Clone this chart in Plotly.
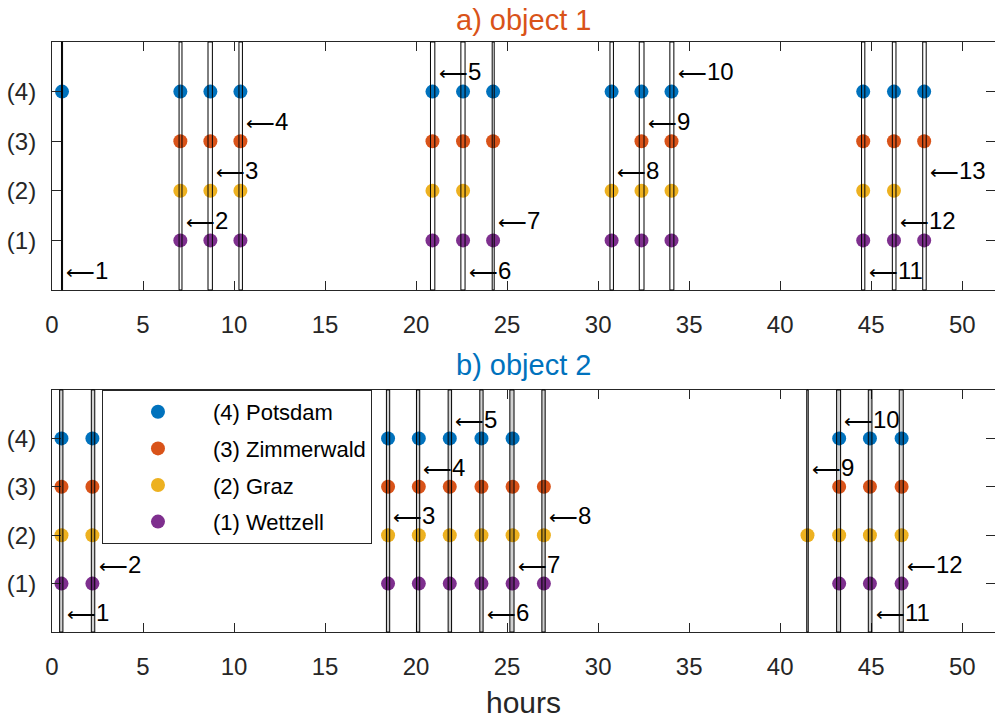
import plotly.graph_objects as go

# ---------------- data ----------------
stations = ["(4) Potsdam", "(3) Zimmerwald", "(2) Graz", "(1) Wettzell"]
station_levels = [4, 3, 2, 1]
station_colors = ["#0072BD", "#D95319", "#EDB120", "#7E2F8E"]
tick_vals = [1, 2, 3, 4]
tick_text = ["(1)", "(2)", "(3)", "(4)"]
x_ticks = [0, 5, 10, 15, 20, 25, 30, 35, 40, 45, 50]

# object 1: observation times (hours) per station
obj1_potsdam = [0.55, 7.05, 8.70, 10.35, 20.90, 22.58, 24.23, 30.74, 32.38, 34.03, 44.56, 46.25, 47.91]
obj1_zimmerwald = [7.05, 8.70, 10.35, 20.90, 22.58, 24.23, 32.38, 34.03, 44.56, 46.25, 47.91]
obj1_graz = [7.05, 8.70, 10.35, 20.90, 22.58, 30.74, 32.38, 34.03, 44.56, 46.25]
obj1_wettzell = [7.05, 8.70, 10.35, 20.90, 22.58, 24.23, 30.74, 32.38, 34.03, 44.56, 46.25, 47.91]
# object 1: pass windows (start, end) in hours
obj1_pass_start = [0.52, 6.98, 8.57, 10.27, 20.79, 22.46, 24.18, 30.65, 32.26, 33.94, 44.47, 46.16, 47.83]
obj1_pass_end = [0.58, 7.14, 8.81, 10.46, 21.03, 22.69, 24.29, 30.84, 32.52, 34.16, 44.65, 46.36, 48.02]

# object 2
obj2_potsdam = [0.52, 2.22, 18.46, 20.15, 21.85, 23.59, 25.30, 43.24, 44.93, 46.67]
obj2_zimmerwald = [0.52, 2.22, 18.46, 20.15, 21.85, 23.59, 25.30, 27.02, 43.24, 44.93, 46.67]
obj2_graz = [0.52, 2.22, 18.46, 20.15, 21.85, 23.59, 25.30, 27.02, 41.50, 43.24, 44.93, 46.67]
obj2_wettzell = [0.52, 2.22, 18.46, 20.15, 21.85, 23.59, 25.30, 27.02, 43.24, 44.93, 46.67]
obj2_pass_start = [0.42, 2.16, 18.37, 20.02, 21.76, 23.50, 25.15, 26.91, 41.46, 43.10, 44.84, 46.54]
obj2_pass_end = [0.60, 2.35, 18.55, 20.20, 21.95, 23.68, 25.38, 27.09, 41.54, 43.32, 45.04, 46.76]

# ---------------- figure ----------------
AX = "#262626"
FONT = "Liberation Sans, Arial, sans-serif"

fig = go.Figure()

panels = [
    ("x", "y", [obj1_potsdam, obj1_zimmerwald, obj1_graz, obj1_wettzell], False),
    ("x2", "y2", [obj2_potsdam, obj2_zimmerwald, obj2_graz, obj2_wettzell], True),
]
for xa, ya, series, show in panels:
    for name, lvl, col, xs in zip(stations, station_levels, station_colors, series):
        fig.add_trace(go.Scatter(
            x=xs, y=[lvl] * len(xs), mode="markers", name=name,
            marker=dict(color=col, size=14, line=dict(width=0)),
            xaxis=xa, yaxis=ya, showlegend=show, legendgroup=name,
            hoverinfo="x+name"))

# invisible traces for right-side tick axes
fig.add_trace(go.Scatter(x=[], y=[], xaxis="x", yaxis="y3", showlegend=False))
fig.add_trace(go.Scatter(x=[], y=[], xaxis="x2", yaxis="y4", showlegend=False))

shapes = []
annotations = []
for xa, ya, starts, ends, fill in [
    ("x", "y", obj1_pass_start, obj1_pass_end, "rgba(0,0,0,0)"),
    ("x2", "y2", obj2_pass_start, obj2_pass_end, "rgba(0,0,0,0.18)"),
]:
    for k, (s, e) in enumerate(zip(starts, ends)):
        shapes.append(dict(type="rect", xref=xa, yref=ya + " domain",
                           x0=s, x1=e, y0=0, y1=1, layer="above",
                           line=dict(color="black", width=1), fillcolor=fill))
        annotations.append(dict(xref=xa, yref=ya, x=e + 0.15, y=(k % 5) + 0.4,
                                text='<span style="font-size:20px">\u27f5</span>' + str(k + 1),
                                showarrow=False,
                                xanchor="left", yanchor="middle", borderpad=0,
                                font=dict(family=FONT, size=24, color="black")))

annotations.append(dict(xref="x domain", yref="paper", x=0.5, y=1.037,
                        text="a) object 1", showarrow=False, yanchor="middle",
                        font=dict(family=FONT, size=29, color="#D95319")))
annotations.append(dict(xref="x2 domain", yref="paper", x=0.5, y=0.4525,
                        text="b) object 2", showarrow=False, yanchor="middle",
                        font=dict(family=FONT, size=29, color="#0072BD")))

xcommon = dict(range=[0, 51.8], tickvals=x_ticks, ticks="inside", ticklen=9,
               tickcolor=AX, showline=True, linecolor=AX, linewidth=1,
               mirror="ticks", showgrid=False, zeroline=False, automargin=False,
               tickfont=dict(family=FONT, size=24, color=AX),
               ticklabelstandoff=13)
ycommon = dict(range=[0, 5], tickvals=tick_vals, ticktext=tick_text,
               ticks="inside", ticklen=9, tickcolor=AX, showline=True,
               linecolor=AX, linewidth=1, showgrid=False, zeroline=False,
               automargin=False,
               tickfont=dict(family=FONT, size=24, color=AX),
               ticklabelstandoff=10)
yright = dict(range=[0, 5], tickvals=tick_vals, ticks="inside", ticklen=9,
              tickcolor=AX, showline=False, showticklabels=False,
              showgrid=False, zeroline=False, side="right", automargin=False)

fig.update_layout(
    width=995, height=719,
    margin=dict(l=52, r=0, t=42, b=87),
    paper_bgcolor="white", plot_bgcolor="white",
    xaxis=dict(domain=[0, 1], anchor="y", **xcommon),
    yaxis=dict(domain=[0.5797, 1], anchor="x", **ycommon),
    xaxis2=dict(domain=[0, 1], anchor="y2",
                title=dict(text="hours", standoff=14,
                           font=dict(family=FONT, size=30, color=AX)),
                **xcommon),
    yaxis2=dict(domain=[0, 0.4102], anchor="x2", **ycommon),
    yaxis3=dict(overlaying="y", anchor="x", **yright),
    yaxis4=dict(overlaying="y2", anchor="x2", **yright),
    shapes=shapes,
    annotations=annotations,
    showlegend=True,
    legend=dict(x=0.053, y=0.4102, xanchor="left", yanchor="top",
                bgcolor="white", bordercolor=AX, borderwidth=1,
                font=dict(family=FONT, size=22, color="black"),
                itemwidth=100, traceorder="grouped", tracegroupgap=5),
)

fig.write_html("out.html", config={"displayModeBar": False},
               post_script="document.body.style.margin='0px';document.body.style.overflow='hidden';")
